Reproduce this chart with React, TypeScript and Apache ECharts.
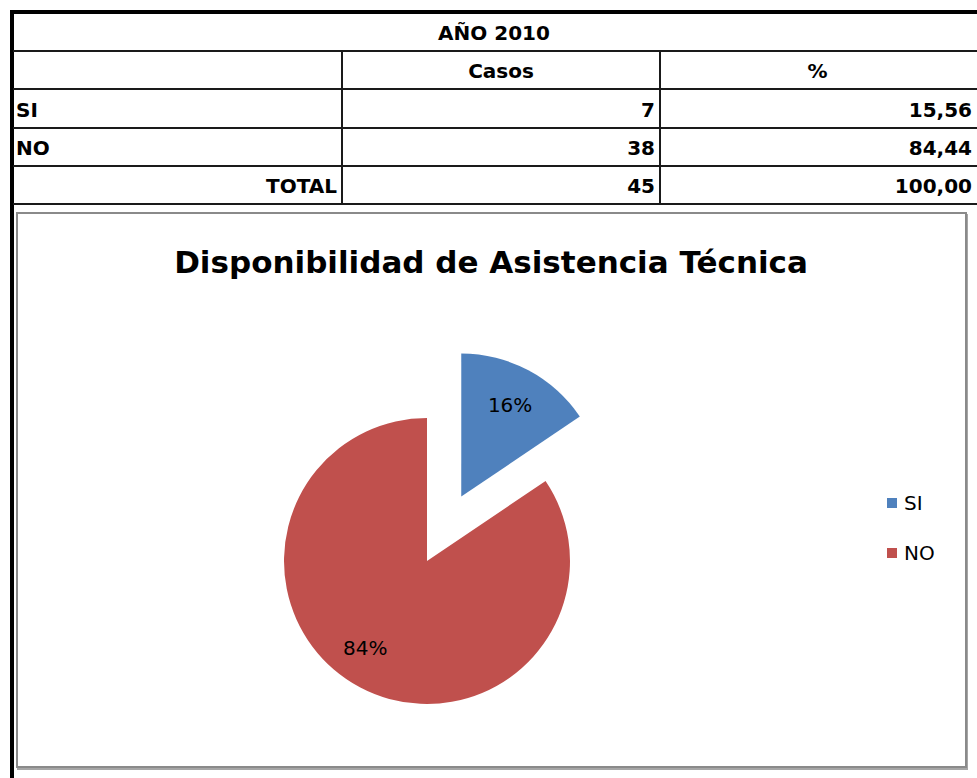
import React, { useEffect, useRef } from 'react';
import * as echarts from 'echarts';

const tableTitle = 'AÑO 2010';
const headers = ['Casos', '%'];
const categories = ['SI', 'NO'];
const cases = [7, 38];
const percents = ['15,56', '84,44'];
const totalLabel = 'TOTAL';
const totalCases = 45;
const totalPercent = '100,00';
const chartTitle = 'Disponibilidad de Asistencia Técnica';
const colors = ['#4F81BD', '#C0504D'];

const FONT = 'DejaVu Sans';

export default function App() {
  const ref = useRef<HTMLDivElement>(null);
  useEffect(() => {
    if (!ref.current) return;
    const chart = echarts.init(ref.current, null, { renderer: 'svg' });

    const rowBottoms = [51, 89, 128, 166, 204];
    const colX = [13, 342, 660, 977];
    const tTxt = { fontFamily: FONT, fontWeight: 'bold', fontSize: 20, fill: '#000' };
    const g: any[] = [];
    // chart box
    g.push({
      type: 'rect', z: -10,
      shape: { x: 17, y: 213, width: 949, height: 554 },
      style: { fill: '#fff', stroke: '#8a8a8a', lineWidth: 2, shadowColor: 'rgba(0,0,0,0.35)', shadowOffsetX: 1, shadowOffsetY: 2, shadowBlur: 1 },
    });
    // thick outer lines
    g.push({ type: 'rect', shape: { x: 10, y: 10, width: 967, height: 4 }, style: { fill: '#000' } });
    g.push({ type: 'rect', shape: { x: 10, y: 10, width: 4, height: 768 }, style: { fill: '#000' } });
    // horizontal lines
    rowBottoms.forEach((y) => {
      g.push({ type: 'line', shape: { x1: 13, y1: y, x2: 977, y2: y }, style: { stroke: '#1a1a1a', lineWidth: 2 } });
    });
    [342, 660].forEach((x) => {
      g.push({ type: 'line', shape: { x1: x, y1: 51, x2: x, y2: 204 }, style: { stroke: '#1a1a1a', lineWidth: 2 } });
    });
    const txt = (text: string, x: number, y: number, align: string) => ({
      type: 'text', x, y,
      style: { ...tTxt, text, textAlign: align, textVerticalAlign: 'middle' },
    });
    g.push(txt(tableTitle, 494, 33, 'center'));
    g.push(txt(headers[0], (colX[1] + colX[2]) / 2, 71, 'center'));
    g.push(txt(headers[1], (colX[2] + colX[3]) / 2 - 1, 71, 'center'));
    categories.forEach((c, i) => {
      const yc = rowBottoms[i + 2] - 18;
      g.push(txt(c, 16, yc, 'left'));
      g.push(txt(String(cases[i]), 655, yc, 'right'));
      g.push(txt(percents[i], 972, yc, 'right'));
    });
    g.push(txt(totalLabel, 337, rowBottoms[4] - 18, 'right'));
    g.push(txt(String(totalCases), 655, rowBottoms[4] - 18, 'right'));
    g.push(txt(totalPercent, 972, rowBottoms[4] - 18, 'right'));
    // chart title
    g.push({
      type: 'text', x: 491, y: 262,
      style: { text: chartTitle, fontFamily: FONT, fontWeight: 'bold', fontSize: 31, fill: '#000', textAlign: 'center', textVerticalAlign: 'middle' },
    });

    const pieData = categories.map((name, i) => ({
      name, value: cases[i], selected: i === 0, itemStyle: { color: colors[i] },
    }));
    const labelOffsets = [[0, -2], [-13, -5]];

    chart.setOption({
      animation: false,
      graphic: g,
      legend: {
        orient: 'vertical', left: 882, top: 488,
        itemWidth: 10, itemHeight: 10, itemGap: 30, icon: 'rect',
        data: categories.map((name, i) => ({ name, itemStyle: { color: colors[i] } })),
        textStyle: { fontFamily: FONT, fontSize: 20, color: '#000', padding: [0, 0, 0, 2] },
      },
      series: [
        {
          type: 'pie', center: [427, 561], radius: 143, startAngle: 90, clockwise: true,
          selectedMode: 'single', selectedOffset: 73,
          label: { show: false }, labelLine: { show: false },
          emphasis: { disabled: true },
          data: pieData,
        },
        {
          type: 'pie', center: [427, 561], radius: [59, 143], startAngle: 90, clockwise: true,
          selectedMode: 'single', selectedOffset: 73, silent: true, percentPrecision: 0,
          itemStyle: { color: 'transparent', borderWidth: 0 },
          label: { show: true, position: 'inside', formatter: '{d}%', fontFamily: FONT, fontSize: 20, color: '#000' },
          labelLine: { show: false },
          emphasis: { disabled: true },
          data: categories.map((name, i) => ({
            name, value: cases[i], selected: i === 0,
            itemStyle: { color: 'transparent' },
            label: { offset: labelOffsets[i] },
          })),
        },
      ],
    });
    return () => chart.dispose();
  }, []);
  return <div ref={ref} style={{ position: 'absolute', left: 0, top: 0, width: 977, height: 778, background: '#fff' }} />;
}
